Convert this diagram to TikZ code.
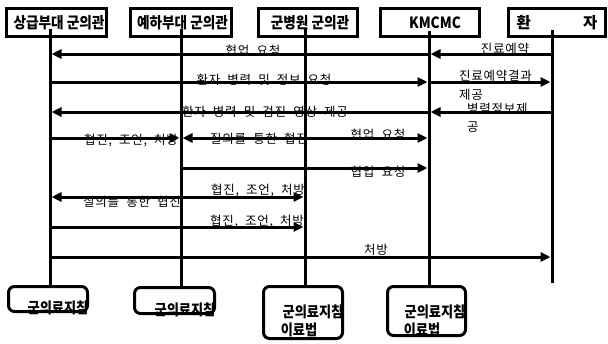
\documentclass[tikz,border=0pt]{standalone}
\usepackage{fontspec}
\newfontfamily\kr{Noto Sans CJK KR}
\newfontfamily\krl[LetterSpace=6,WordSpace=2]{Noto Sans CJK KR}
\usetikzlibrary{arrows.meta}
\newcommand{\cnd}[1]{\scalebox{0.88}[1]{#1}}
\begin{document}
\begin{tikzpicture}[x=1pt,y=-1pt,
  topbox/.style={draw, line width=3pt, inner sep=0pt, minimum height=28pt, font=\kr\bfseries\fontsize{15.5}{17}\selectfont},
  life/.style={line width=3pt},
  msg/.style={line width=3pt, -{Triangle[length=10pt,width=9pt]}, shorten >=1.5pt},
  lbl/.style={font=\krl\fontsize{12.5}{14}\selectfont, inner sep=0pt},
  bbox/.style={draw, rounded corners=6pt, line width=3pt, inner sep=0pt},
  btxt/.style={font=\kr\bfseries\fontsize{15}{17}\selectfont, inner sep=0pt}]
\useasboundingbox (0,0) rectangle (608,343);
% top boxes
\node[topbox, minimum width=100pt] (A) at (56.5,22.5) {\hspace*{5pt}\cnd{상급부대 군의관}};
\node[topbox, minimum width=101pt] (B) at (181,22.5) {\hspace*{3pt}\cnd{예하부대 군의관}};
\node[topbox, minimum width=99pt] (C) at (308,22.5) {\hspace*{4pt}\cnd{군병원 군의관}};
\node[topbox, minimum width=99pt] (D) at (430,22.5) {\hspace*{10pt}\cnd{KMCMC}};
\node[topbox, minimum width=97pt] (E) at (557,22.5) {환\hspace{52pt}자};
% bottom boxes
\node[bbox, minimum width=79pt, minimum height=25pt] (G1) at (48,299) {};
\node[bbox, minimum width=80pt, minimum height=26pt] (G2) at (174.5,300.5) {};
\node[bbox, minimum width=79pt, minimum height=52pt] (G3) at (303,312.5) {};
\node[bbox, minimum width=78pt, minimum height=49pt] (G4) at (426.5,311) {};
\node[btxt] (T1) at (58,308) {\cnd{군의료지침}};
\node[btxt] (T2) at (185,310) {\cnd{군의료지침}};
\node[btxt] (T3) at (313,312) {\cnd{군의료지침}};
\node[btxt] (T3b) at (299,330) {\cnd{이료법}};
\node[btxt] (T4) at (435,312) {\cnd{군의료지침}};
\node[btxt] (T4b) at (422,330) {\cnd{이료법}};
% lifelines
\coordinate (LA) at (50,29);
\coordinate (LB) at (181,29);
\coordinate (LC) at (305,29);
\coordinate (LD) at (429,31);
\coordinate (LE) at (552,30);
\coordinate (EB) at (552,283);
\draw[life] (LA) -- (LA |- G1.north);
\draw[life] (LB) -- (LB |- G2.north);
\draw[life] (LC) -- (LC |- G3.north);
\draw[life] (LD) -- (LD |- G4.north);
\draw[life] (LE) -- (EB);
% row coordinates
\coordinate (a1) at (50,54); \coordinate (d1) at (429,54); \coordinate (e1) at (552,54);
\coordinate (a2) at (50,82); \coordinate (d2) at (429,82); \coordinate (e2) at (552,82);
\coordinate (a3) at (50,112); \coordinate (d3) at (429,112); \coordinate (e3) at (552,112);
\coordinate (a4) at (50,138); \coordinate (b4) at (181,138); \coordinate (c4) at (305,138); \coordinate (d4) at (429,138);
\coordinate (b5) at (181,168); \coordinate (d5) at (429,168);
\coordinate (a6) at (50,197); \coordinate (b6) at (181,197); \coordinate (c6) at (305,197);
\coordinate (a7) at (50,227); \coordinate (c7) at (305,227);
\coordinate (a8) at (50,257); \coordinate (e8) at (552,257);
% messages
\draw[msg] (d1) -- (a1);
\draw[msg] (e1) -- (d1);
\draw[msg] (a2) -- (d2);
\draw[msg] (d2) -- (e2);
\draw[msg] (d3) -- (a3);
\draw[msg] (e3) -- (d3);
\draw[msg] (a4) -- (b4);
\draw[msg] (c4) -- (b4);
\draw[msg] (c4) -- (d4);
\draw[msg] (b5) -- (d5);
\draw[msg] (b6) -- (a6);
\draw[msg] (b6) -- (c6);
\draw[msg] (a7) -- (c7);
\draw[msg] (a8) -- (e8);
% labels
\node[lbl] (m1) at (253,51) {협업 요청};
\node[lbl] (m1b) at (505,49) {진료예약};
\node[lbl] (m2) at (264,80) {환자 병력 및 정보 요청};
\node[lbl, align=left, anchor=north west, font=\krl\fontsize{12.5}{19}\selectfont] (m2b) at (459,70) {진료예약결과\\제공};
\node[lbl] (m3) at (265,112) {환자 병력 및 검진 영상 제공};
\node[lbl, align=left, anchor=north west, font=\krl\fontsize{12.5}{18}\selectfont] (m3b) at (467,103) {병력정보제\\공};
\node[lbl] (m4a) at (131,140) {협진, 조언, 처방};
\node[lbl] (m4b) at (259,139) {질의를 통한 협진};
\node[lbl] (m4c) at (378,135) {협업 요청};
\node[lbl] (m5) at (378,172) {협업 요청};
\node[lbl] (m6a) at (132,202) {질의를 통한 협진};
\node[lbl] (m6b) at (258,190) {협진, 조언, 처방};
\node[lbl] (m7) at (257,221) {협진, 조언, 처방};
\node[lbl] (m8) at (376,250) {처방};
\end{tikzpicture}
\end{document}
